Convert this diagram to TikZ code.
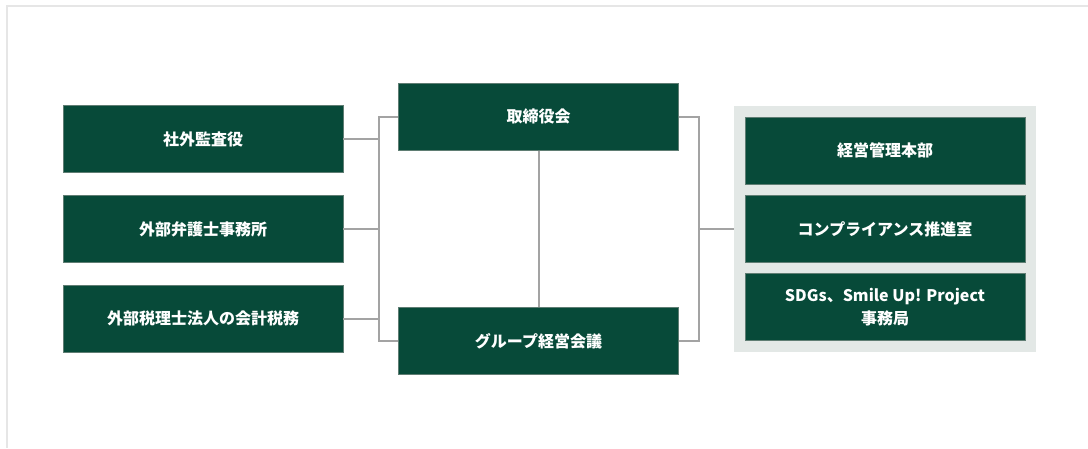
\documentclass[tikz,border=0pt]{standalone}
\usepackage{fontspec}
\setmainfont{Noto Sans CJK JP}
\usepackage{tikz}
\usetikzlibrary{positioning}

\definecolor{boxgreen}{HTML}{074A39}
\definecolor{boxedge}{HTML}{5F7D73}
\definecolor{wire}{HTML}{A3A3A3}
\definecolor{panelgray}{HTML}{E3E8E6}
\definecolor{framegray}{HTML}{E6E6E6}

\tikzset{
  orgbox/.style={fill=boxgreen, draw=boxedge, line width=0.8pt, text=white,
    minimum width=280pt, minimum height=67pt, inner sep=0pt, align=center,
    font=\fontsize{16}{23}\selectfont\bfseries},
  wireline/.style={draw=wire, line width=2pt}
}

\begin{document}
\begin{tikzpicture}[x=1pt, y=-1pt]
\useasboundingbox (0,0) rectangle (1088,448);
\draw[framegray, line width=2pt] (7,448) -- (7,6) -- (1088,6);

% left side
\node[orgbox] (audit) at (203,139.3) {社外監査役};
\node[orgbox] (lawyer) at (203,229) {外部弁護士事務所};
\node[orgbox] (taxfirm) at (203,318.5) {外部税理士法人の会計税務};

% centre
\node[orgbox] (board) at (538.5,116.8) {取締役会};
\node[orgbox] (meeting) at (538.5,341) {グループ経営会議};

% right side
\node[fill=panelgray, minimum width=302pt, minimum height=246pt, inner sep=0pt] (panel) at (885,228.7) {};
\node[orgbox] (mgmt) at (885,150.5) {経営管理本部};
\node[orgbox] (compl) at (885,229) {コンプライアンス推進室};
\node[orgbox] (sdgs) at (885,307) {SDGs、Smile Up! Project\\事務局};

\coordinate (lbus) at (379,0);
\coordinate (rbus) at (699.3,0);

% connectors
\draw[wireline] (audit.east) -- (audit.east -| lbus);
\draw[wireline] (lawyer.east) -- (lawyer.east -| lbus);
\draw[wireline] (taxfirm.east) -- (taxfirm.east -| lbus);
\draw[wireline] (board.west) -- (board.west -| lbus) -- (meeting.west -| lbus) -- (meeting.west);
\draw[wireline] (board.south) -- (meeting.north);
\draw[wireline] (board.east) -- (board.east -| rbus) -- (meeting.east -| rbus) -- (meeting.east);
\draw[wireline] (panel.west) -- (panel.west -| rbus);
\end{tikzpicture}
\end{document}
